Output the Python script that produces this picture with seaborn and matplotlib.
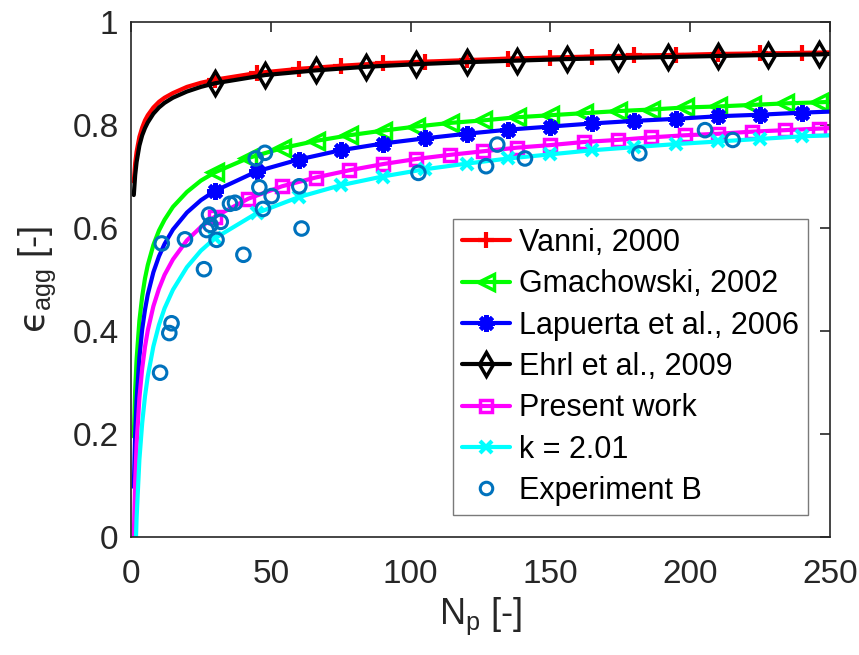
import numpy as np
import pandas as pd
import matplotlib
matplotlib.use("Agg")
import matplotlib.pyplot as plt
from matplotlib.lines import Line2D
import seaborn as sns

# ---------------- data ----------------
N_step15 = [1, 1.5, 2, 3, 4, 5, 6, 8, 10, 12, 15, 20, 25,
            30, 45, 60, 75, 90, 105, 120, 135, 150, 165, 180, 195, 210, 225, 240, 250]
N_step12 = [1, 1.5, 2, 3, 4, 5, 6, 8, 10, 12, 15, 20, 25,
            30, 42, 54, 66, 78, 90, 102, 114, 126, 138, 150, 162, 174, 186, 198,
            210, 222, 234, 246, 250]
N_step18 = [1, 1.5, 2, 3, 4, 5, 6, 8, 10, 12, 15, 20, 25,
            30, 48, 66, 84, 102, 120, 138, 156, 174, 192, 210, 228, 246, 250]

vanni = [0.690, 0.726, 0.748, 0.777, 0.795, 0.809, 0.819, 0.834, 0.845, 0.853, 0.862, 0.874, 0.882,
         0.888, 0.901, 0.909, 0.915, 0.920, 0.923, 0.926, 0.929, 0.931, 0.933, 0.935, 0.936,
         0.938, 0.939, 0.940, 0.941]
gmachowski = [0.195, 0.287, 0.345, 0.420, 0.467, 0.502, 0.528, 0.567, 0.595, 0.616, 0.641, 0.670, 0.692,
              0.708, 0.736, 0.755, 0.769, 0.780, 0.789, 0.797, 0.804, 0.809, 0.815, 0.819, 0.823,
              0.827, 0.830, 0.834, 0.836, 0.839, 0.842, 0.844, 0.845]
lapuerta = [0.097, 0.200, 0.266, 0.349, 0.403, 0.441, 0.471, 0.514, 0.545, 0.569, 0.597, 0.630, 0.654,
            0.672, 0.710, 0.733, 0.751, 0.764, 0.774, 0.783, 0.791, 0.797, 0.803, 0.808, 0.812,
            0.817, 0.820, 0.824, 0.826]
ehrl = [0.664, 0.703, 0.728, 0.760, 0.780, 0.794, 0.805, 0.822, 0.834, 0.843, 0.853, 0.865, 0.874,
        0.881, 0.897, 0.906, 0.913, 0.918, 0.922, 0.925, 0.928, 0.930, 0.932, 0.934, 0.936,
        0.937, 0.938]
present = [0.000, 0.110, 0.180, 0.270, 0.327, 0.369, 0.401, 0.448, 0.482, 0.509, 0.539, 0.576, 0.602,
           0.622, 0.657, 0.681, 0.698, 0.712, 0.724, 0.734, 0.742, 0.749, 0.756, 0.761, 0.767,
           0.771, 0.776, 0.780, 0.783, 0.787, 0.790, 0.793, 0.794]
k201 = [-0.190, -0.051, 0.037, 0.150, 0.221, 0.273, 0.312, 0.370, 0.412, 0.444, 0.480, 0.524, 0.556,
        0.580, 0.629, 0.660, 0.683, 0.700, 0.714, 0.725, 0.735, 0.743, 0.751, 0.757, 0.763,
        0.768, 0.773, 0.778, 0.780]

exp_N = [10.4, 11.0, 13.7, 14.5, 19.3, 26.1, 27.1, 28.4, 27.9, 30.6, 32.1, 35.4, 37.2, 40.2,
         44.6, 47.9, 45.9, 47.2, 50.3, 60.2, 61.0, 102.8, 127.0, 131.0, 140.9, 181.8, 205.3, 215.2]
exp_eps = [0.319, 0.570, 0.396, 0.415, 0.578, 0.520, 0.596, 0.606, 0.626, 0.577, 0.612, 0.647, 0.649, 0.548,
           0.735, 0.746, 0.679, 0.637, 0.662, 0.681, 0.599, 0.707, 0.720, 0.762, 0.735, 0.745, 0.790, 0.771]

labels = ["Vanni, 2000", "Gmachowski, 2002", "Lapuerta et al., 2006", "Ehrl et al., 2009",
          "Present work", "k = 2.01", "Experiment B"]
x_ticks = [0, 50, 100, 150, 200, 250]
y_ticks = [0, 0.2, 0.4, 0.6, 0.8, 1.0]
y_ticklabels = ["0", "0.2", "0.4", "0.6", "0.8", "1"]

# ---------------- style ----------------
sns.set_theme(style="white")
plt.rcParams["font.family"] = ["Liberation Sans", "DejaVu Sans"]
plt.rcParams["mathtext.fontset"] = "custom"
plt.rcParams["mathtext.rm"] = "Liberation Sans"
plt.rcParams["mathtext.it"] = "DejaVu Sans"
plt.rcParams["mathtext.bf"] = "Liberation Sans:bold"

AX_COL = "#262626"
fig = plt.figure(figsize=(8.59, 6.55), dpi=100)
ax = fig.add_axes([131 / 859, 1 - 537 / 655, 699 / 859, 515 / 655])

series = [
    (N_step15, vanni, "#FF0000", "+", dict(ms=12, mfc="#FF0000", mew=3)),
    (N_step12, gmachowski, "#00FF00", "<", dict(ms=11, mfc="none", mew=2.5)),
    (N_step15, lapuerta, "#0000FF", (8, 2, 0), dict(ms=12, mfc="#0000FF", mew=3)),
    (N_step18, ehrl, "#000000", "d", dict(ms=12, mfc="none", mew=2.5)),
    (N_step12, present, "#FF00FF", "s", dict(ms=9, mfc="none", mew=2.5)),
    (N_step15, k201, "#00FFFF", "x", dict(ms=9, mfc="#00FFFF", mew=3)),
]

handles = []
for (xs, ys, col, mk, mkw), lab in zip(series, labels[:6]):
    df = pd.DataFrame({"N": xs, "eps": ys})
    idx = [i for i, v in enumerate(xs) if 30 <= v < 250]
    sns.lineplot(data=df, x="N", y="eps", ax=ax, color=col, linewidth=3,
                 marker=mk, markevery=idx, markeredgecolor=col,
                 estimator=None, sort=False, legend=False, **mkw)
    handles.append(Line2D([0], [0], color=col, linewidth=3, marker=mk,
                          markeredgecolor=col, **mkw))

dfe = pd.DataFrame({"N": exp_N, "eps": exp_eps})
sns.scatterplot(data=dfe, x="N", y="eps", ax=ax, marker="o", s=95,
                color="none", edgecolor="#0072BD", linewidth=2.2, zorder=5, legend=False)
handles.append(Line2D([0], [0], linestyle="none", marker="o", ms=9,
                      mfc="none", mec="#0072BD", mew=2.2))

ax.set_xlim(0, 250)
ax.set_ylim(0, 1)
ax.set_xticks(x_ticks)
ax.set_yticks(y_ticks)
ax.set_yticklabels(y_ticklabels)
ax.tick_params(axis="both", direction="in", length=7, width=1.2, top=True, right=True,
               labelsize=24, colors=AX_COL, labelcolor=AX_COL)
ax.tick_params(axis="x", pad=16)
ax.tick_params(axis="y", pad=9)
for sp in ax.spines.values():
    sp.set_visible(True)
    sp.set_color(AX_COL)
    sp.set_linewidth(1.2)

ax.set_xlabel(r"N$_{\mathrm{p}}$ [-]", fontsize=26, color=AX_COL, labelpad=4)
ax.set_ylabel("$\u03f5_{\\mathrm{agg}}$ [-]", fontsize=26, color=AX_COL, labelpad=10)

leg = ax.legend(handles, labels, loc="lower right", bbox_to_anchor=(0.9685, 0.0427),
                bbox_transform=ax.transAxes, borderaxespad=0, fontsize=22,
                frameon=True, fancybox=False, edgecolor="#7a7a7a", framealpha=1,
                handlelength=1.55, handletextpad=0.3, labelspacing=0.37, borderpad=0.3)
leg.get_frame().set_linewidth(1.0)
for t in leg.get_texts():
    t.set_color("black")

fig.savefig("out.png", dpi=100)
